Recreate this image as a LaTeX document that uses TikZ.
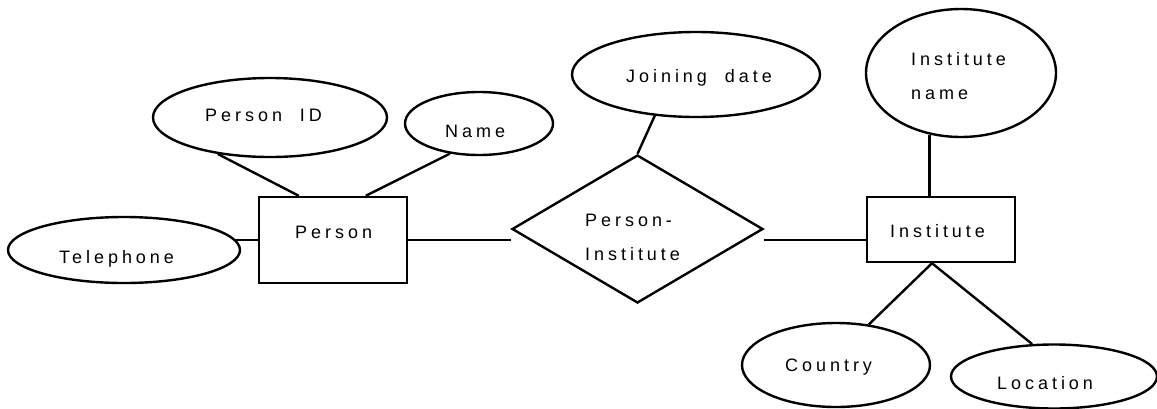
\documentclass[tikz,border=0pt]{standalone}
\usepackage{fontspec}
\setmainfont{Liberation Sans}[LetterSpace=22]
\usetikzlibrary{shapes.geometric}
\tikzset{
  ln/.style={line width=2.4pt},
  attr/.style={ellipse, draw, ln, inner sep=0pt},
  entity/.style={rectangle, draw, ln, inner sep=0pt},
  rel/.style={diamond, draw, ln, inner sep=0pt},
  txt/.style={anchor=base west, inner sep=0pt, align=left,
              font=\fontsize{18}{33.5}\selectfont},
}
\begin{document}
\begin{tikzpicture}[x=1pt,y=-1pt]
  \useasboundingbox (0,0) rectangle (1157,408);

  % entities and relationship
  \node[entity, minimum width=148pt, minimum height=86pt] (person) at (333,240) {};
  \node[entity, minimum width=148pt, minimum height=65pt] (inst) at (941,229.5) {};
  \node[rel, minimum width=251pt, minimum height=148pt] (relship) at (637.5,229) {};

  % attributes
  \node[attr, minimum width=234pt, minimum height=79pt] (pid) at (270,117.5) {};
  \node[attr, minimum width=148pt, minimum height=63pt] (name) at (479,123.5) {};
  \node[attr, minimum width=232pt, minimum height=66pt] (tel) at (124,250) {};
  \node[attr, minimum width=248pt, minimum height=85pt] (jd) at (696,74.5) {};
  \node[attr, minimum width=190pt, minimum height=128pt] (iname) at (961,73) {};
  \node[attr, minimum width=188pt, minimum height=84pt] (ctry) at (836,365) {};
  \node[attr, minimum width=206pt, minimum height=64pt] (loc) at (1054,376.5) {};

  % labels (multi-line labels are anchored on their last baseline)
  \node[txt] (pid-t) at (205,121.7) {Person\ \ ID};
  \node[txt] (name-t) at (445,137) {Name};
  \node[txt] (tel-t) at (59,263) {Telephone};
  \node[txt] (person-t) at (295,238) {Person};
  \node[txt] (jd-t) at (626,82) {Joining\ \ date};
  \node[txt] (rel-t) at (585,260) {Person-\\Institute};
  \node[txt] (iname-t) at (911,99) {Institute\\name};
  \node[txt] (inst-t) at (890,237) {Institute};
  \node[txt] (ctry-t) at (785,371) {Country};
  \node[txt] (loc-t) at (997,389) {Location};

  % connectors
  \draw[ln] (pid.215) -- ([xshift=41pt]person.north west);
  \draw[ln] (name.226) -- ([xshift=108pt]person.north west);
  \draw[ln] (tel.5) -- (tel.5 -| person.west);
  \draw[ln] (person.east) -- (person.east -| relship.west);
  \draw[ln] (relship.east |- person.east) -- (person.east -| inst.west);
  \draw[ln] (jd.225) -- (relship.north);
  \draw[ln] (iname.243) -- (iname.243 |- inst.north);
  \draw[ln] ([xshift=-9pt]inst.south) -- (ctry.51);
  \draw[ln] ([xshift=-9pt]inst.south) -- (loc.124);
\end{tikzpicture}
\end{document}
